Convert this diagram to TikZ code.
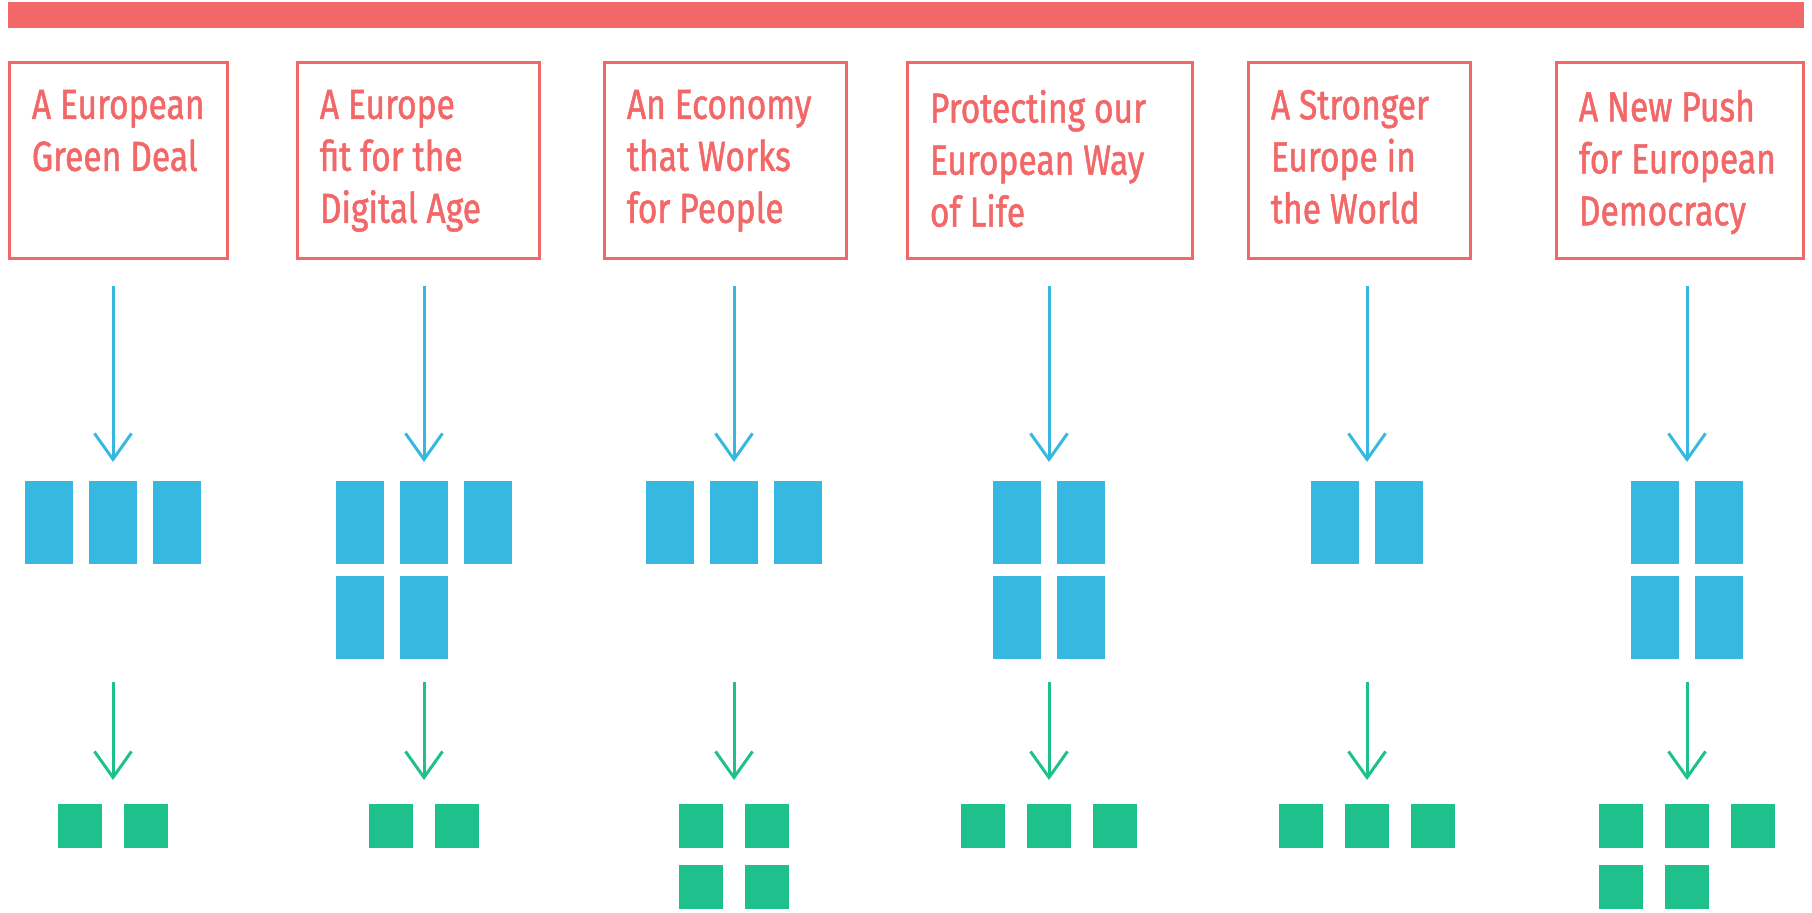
\documentclass[tikz,border=0pt]{standalone}
\usepackage{fontspec}
\newfontfamily\pillarfont[FakeStretch=0.8,FakeBold=1.2]{Fira Sans}
\usetikzlibrary{arrows.meta,positioning}
\definecolor{pillarred}{RGB}{242,103,103}
\definecolor{actblue}{RGB}{54,184,224}
\definecolor{actgreen}{RGB}{30,193,140}
\tikzset{
pillar/.style=
    {draw=pillarred,
    line width=1.5pt,
    rectangle,
    inner sep=0pt,
    outer sep=0pt,
    anchor=north west,
    minimum height=98pt
    },
pillartext/.style=
    {text=pillarred,
    font=\pillarfont\fontsize{21}{26}\selectfont,
    align=left,
    inner sep=0pt,
    anchor=north west
    },
bluebar/.style=
    {fill=actblue,
    inner sep=0pt,
    minimum width=24pt,
    minimum height=41.5pt
    },
greensq/.style=
    {fill=actgreen,
    inner sep=0pt,
    minimum width=22pt,
    minimum height=22pt
    },
bluearrow/.style=
    {draw=actblue,
    line width=1.5pt,
    -{Straight Barb[length=13pt,width=18.5pt]}
    },
greenarrow/.style=
    {draw=actgreen,
    line width=1.5pt,
    -{Straight Barb[length=13pt,width=18.5pt]}
    }}

\begin{document}
\begin{tikzpicture}[x=0.5pt,y=-0.5pt]
\useasboundingbox (0,0) rectangle (1812,912);
% top bar
\fill[pillarred] (8,2) rectangle (1804,28);

% priority boxes
\node[pillar,minimum width=109pt] (p1) at (9.5,62.5) {};
\node[pillar,minimum width=121pt] (p2) at (297.5,62.5) {};
\node[pillar,minimum width=121pt] (p3) at (604.5,62.5) {};
\node[pillar,minimum width=142.5pt] (p4) at (907.5,62.5) {};
\node[pillar,minimum width=111pt] (p5) at (1248.5,62.5) {};
\node[pillar,minimum width=123.5pt] (p6) at (1556.5,62.5) {};

\node[pillartext] (t1) at ([shift={(22,27)}]p1.north west) {A European\\Green Deal};
\node[pillartext] (t2) at ([shift={(22,27)}]p2.north west) {A Europe\\fit for the\\Digital Age};
\node[pillartext] (t3) at ([shift={(22,27)}]p3.north west) {An Economy\\that Works\\for People};
\node[pillartext] (t4) at ([shift={(22,27)}]p4.north west) {Protecting our\\European Way\\of Life};
\node[pillartext] (t5) at ([shift={(22,27)}]p5.north west) {A Stronger\\Europe in\\the World};
\node[pillartext] (t6) at ([shift={(22,27)}]p6.north west) {A New Push\\for European\\Democracy};

% arrow tips and green arrow starts
\coordinate (c1) at (113,462);  \coordinate (s1) at (113,682);  \coordinate (g1) at (113,780);
\coordinate (c2) at (424,462);  \coordinate (s2) at (424,682);  \coordinate (g2) at (424,780);
\coordinate (c3) at (734,462);  \coordinate (s3) at (734,682);  \coordinate (g3) at (734,780);
\coordinate (c4) at (1049,462); \coordinate (s4) at (1049,682); \coordinate (g4) at (1049,780);
\coordinate (c5) at (1367,462); \coordinate (s5) at (1367,682); \coordinate (g5) at (1367,780);
\coordinate (c6) at (1687,462); \coordinate (s6) at (1687,682); \coordinate (g6) at (1687,780);

\foreach \i in {1,...,6}{
  \draw[bluearrow,shorten <=13.5pt] (c\i |- p\i.south) -- (c\i);
  \draw[greenarrow] (s\i) -- (g\i);
}

% blue bars
\foreach \dx [count=\k] in {-63.6,0,63.6} \node[bluebar] (b1\k) at (113+\dx,522) {};
\foreach \dx [count=\k] in {-63.6,0,63.6} \node[bluebar] (b2\k) at (424+\dx,522) {};
\foreach \dx [count=\k] in {-63.6,0} \node[bluebar] (b2r\k) at (424+\dx,617) {};
\foreach \dx [count=\k] in {-63.6,0,63.6} \node[bluebar] (b3\k) at (734+\dx,522) {};
\foreach \dx [count=\k] in {-31.8,31.8} \node[bluebar] (b4\k) at (1049+\dx,522) {};
\foreach \dx [count=\k] in {-31.8,31.8} \node[bluebar] (b4r\k) at (1049+\dx,617) {};
\foreach \dx [count=\k] in {-31.8,31.8} \node[bluebar] (b5\k) at (1367+\dx,522) {};
\foreach \dx [count=\k] in {-31.8,31.8} \node[bluebar] (b6\k) at (1687+\dx,522) {};
\foreach \dx [count=\k] in {-31.8,31.8} \node[bluebar] (b6r\k) at (1687+\dx,617) {};

% green squares
\foreach \dx [count=\k] in {-33,33} \node[greensq] (q1\k) at (113+\dx,826) {};
\foreach \dx [count=\k] in {-33,33} \node[greensq] (q2\k) at (424+\dx,826) {};
\foreach \dx [count=\k] in {-33,33} \node[greensq] (q3\k) at (734+\dx,826) {};
\foreach \dx [count=\k] in {-33,33} \node[greensq] (q3r\k) at (734+\dx,887) {};
\foreach \dx [count=\k] in {-66,0,66} \node[greensq] (q4\k) at (1049+\dx,826) {};
\foreach \dx [count=\k] in {-66,0,66} \node[greensq] (q5\k) at (1367+\dx,826) {};
\foreach \dx [count=\k] in {-66,0,66} \node[greensq] (q6\k) at (1687+\dx,826) {};
\foreach \dx [count=\k] in {-66,0} \node[greensq] (q6r\k) at (1687+\dx,887) {};
\end{tikzpicture}
\end{document}
